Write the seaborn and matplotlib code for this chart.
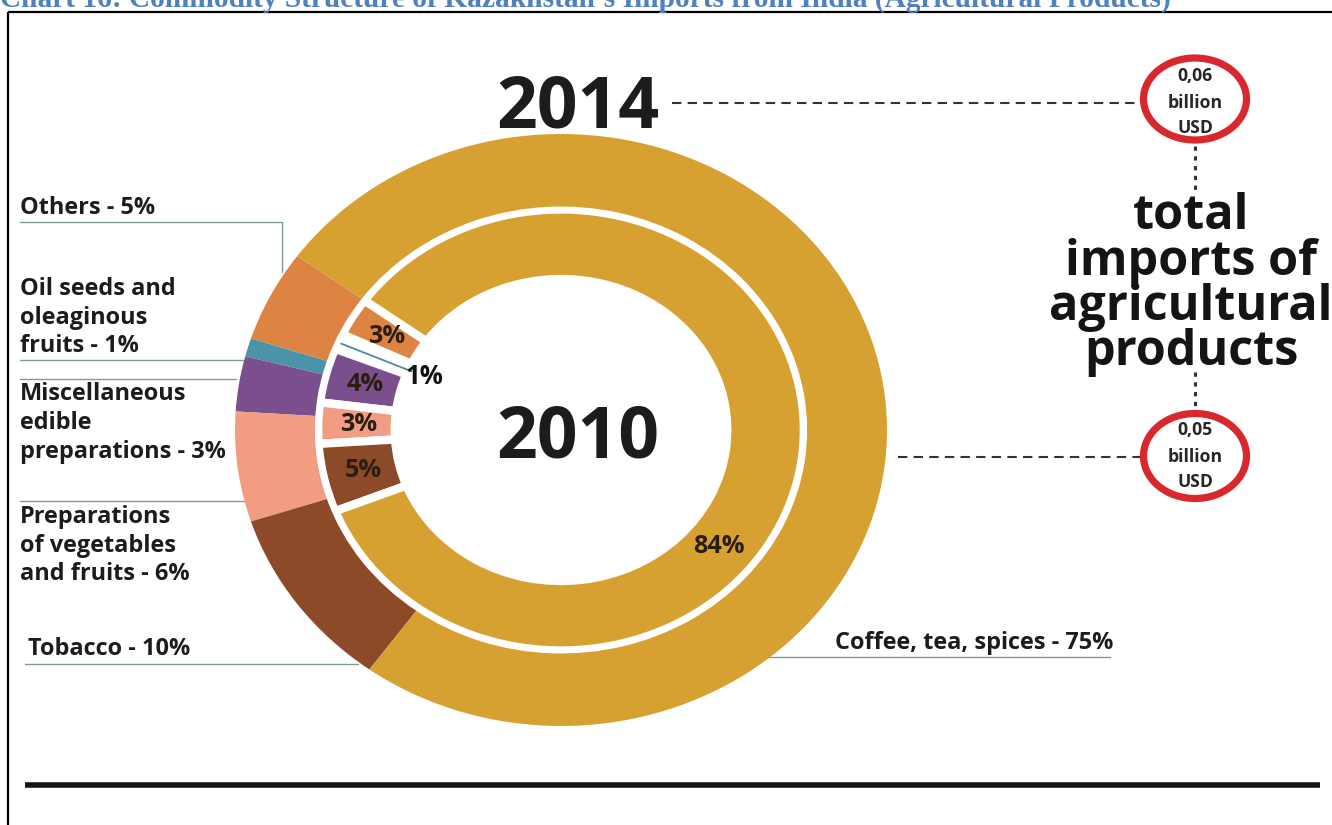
import numpy as np
import matplotlib
matplotlib.use("Agg")
import matplotlib.pyplot as plt
from matplotlib.patches import Ellipse
import seaborn as sns

# ---------------- data ----------------
categories = [
    "Others",
    "Oil seeds and oleaginous fruits",
    "Miscellaneous edible preparations",
    "Preparations of vegetables and fruits",
    "Tobacco",
    "Coffee, tea, spices",
]
share_2014 = [5, 1, 3, 6, 10, 75]
share_2010 = [3, 1, 4, 3, 5, 84]
years = ["2014", "2010"]
total_2014 = "0,06"
total_2010 = "0,05"
unit_lines = ["billion", "USD"]
label_lines = [
    ["Others"],
    ["Oil seeds and", "oleaginous", "fruits"],
    ["Miscellaneous", "edible", "preparations"],
    ["Preparations", "of vegetables", "and fruits"],
    ["Tobacco"],
    ["Coffee, tea, spices"],
]
side_title = ["total", "imports of", "agricultural", "products"]
title = "Chart 16: Commodity Structure of Kazakhstan\u2019s Imports from India (Agricultural Products)"

palette = ["#DD8443", "#4B93A6", "#7B4F8E", "#F29C84", "#8C4A29", "#D6A131"]

# ---------------- figure ----------------
W, H = 1332, 825
sns.set_theme(style="white")
plt.rcParams["font.family"] = ["Open Sans", "DejaVu Sans"]

fig = plt.figure(figsize=(W / 100, H / 100), dpi=100)
renderer = fig.canvas.get_renderer()

# full-figure canvas in pixel units (y downwards)
cv = fig.add_axes([0, 0, 1, 1])
cv.set_xlim(0, W)
cv.set_ylim(H, 0)
cv.axis("off")


def fit(s, width_px, weight="bold", family=None):
    t = fig.text(0, 0, s, fontsize=20, fontweight=weight,
                 family=family if family else plt.rcParams["font.family"])
    w = t.get_window_extent(renderer=renderer).width
    t.remove()
    return 20 * width_px / w


TXT = "#1c1c1c"
LEAD = "#7f9c88"

# title (partly outside the page at top)
fs_title = fit(title, 1168, family=["Liberation Serif"])
cv.text(0, 7, title, fontsize=fs_title, fontweight="bold", color="#4F81BD",
        family=["Liberation Serif"], ha="left", va="baseline")

# frame lines
cv.plot([8, W], [12, 12], color="black", lw=1.6, solid_capstyle="butt")
cv.plot([8, 8], [12, H], color="black", lw=1.6, solid_capstyle="butt")
cv.plot([25, 1320], [785, 785], color="#161616", lw=4.0, solid_capstyle="butt")

# ---------------- rings ----------------
cx, cy, rx, ry = 561, 430, 326, 296
ax = fig.add_axes([(cx - rx) / W, 1 - (cy + ry) / H, 2 * rx / W, 2 * ry / H])
start = 144

inner_wedges, _ = ax.pie(share_2010, radius=0.745, startangle=start, counterclock=True,
                         colors=palette,
                         wedgeprops=dict(width=0.235, edgecolor="white", linewidth=6))
# the 1% slice is too thin to show next to the gaps; it is marked by a leader line
inner_wedges[1].set_linewidth(9)
outer_wedges, _ = ax.pie(share_2014, radius=1.0, startangle=start, counterclock=True,
                         colors=palette,
                         wedgeprops=dict(width=0.245, edgecolor="none", linewidth=0))
for w in outer_wedges:
    w.set_zorder(3)
ax.set_aspect("auto")
ax.set_xlim(-1, 1)
ax.set_ylim(-1, 1)
ax.axis("off")

# inner-ring percentage labels on the slice mid angles
cum = np.cumsum([0] + share_2010)
mid = start + 3.6 * (cum[:-1] + np.array(share_2010) / 2)
fs_small = fit("4%", 37)
for i, v in enumerate(share_2010):
    a = np.deg2rad(mid[i])
    if i == 1:
        ax.plot([0.735 * np.cos(a), 0.50 * np.cos(a)], [0.735 * np.sin(a), 0.50 * np.sin(a)],
                color="#4F8AA0", lw=1.3, zorder=5)
        ax.text(0.455 * np.cos(a), 0.455 * np.sin(a), f"{v}%", fontsize=fs_small * 1.02,
                fontweight="bold", color="#111111", ha="center", va="center", zorder=6)
    elif i == 5:
        b = np.deg2rad(321)
        ax.text(0.625 * np.cos(b), 0.625 * np.sin(b), f"{v}%", fontsize=fs_small,
                fontweight="bold", color="#2a1d12", ha="center", va="center", zorder=6)
    else:
        ax.text(0.62 * np.cos(a), 0.62 * np.sin(a), f"{v}%", fontsize=fs_small,
                fontweight="bold", color="#2a1d12", ha="center", va="center", zorder=6)

# ---------------- year labels ----------------
fs_year = fit("2014", 163)
cv.text(578, 128, years[0], fontsize=fs_year, fontweight="bold", color=TXT,
        ha="center", va="baseline")
cv.text(578, 458, years[1], fontsize=fs_year, fontweight="bold", color=TXT,
        ha="center", va="baseline")
cv.plot([672, 1142], [103, 103], color="#333333", lw=1.5, dashes=(4.5, 3))
cv.plot([898, 1142], [457, 457], color="#333333", lw=1.5, dashes=(4.5, 3))

# ---------------- left labels with leader lines ----------------
fs_lab = fit("preparations - 3%", 206)


def label(lines, value, x, baselines):
    for k, (ln, yb) in enumerate(zip(lines, baselines)):
        s = f"{ln} - {value}%" if k == len(lines) - 1 else ln
        cv.text(x, yb, s, fontsize=fs_lab, fontweight="bold", color=TXT,
                ha="left", va="baseline")


label(label_lines[0], share_2014[0], 20, [214])
label(label_lines[1], share_2014[1], 20, [295, 324, 352])
label(label_lines[2], share_2014[2], 20, [400, 429, 458])
label(label_lines[3], share_2014[3], 20, [523, 552, 580])
label(label_lines[4], share_2014[4], 28, [655])
label(label_lines[5], share_2014[5], 835, [649])

lk = dict(color=LEAD, lw=1.0)
cv.plot([20, 282, 282], [222, 222, 272], **lk)
cv.plot([20, 243], [360, 360], **lk)
cv.plot([20, 236], [379, 379], **lk)
cv.plot([20, 245], [501, 501], **lk)
cv.plot([25, 358], [664, 664], **lk)
cv.plot([765, 1110], [657, 657], **lk)

# ---------------- totals ----------------
fs_side = fit("agricultural", 283)
for s, yb in zip(side_title, [229, 275, 320, 365]):
    cv.text(1191, yb, s, fontsize=fs_side, fontweight="bold", color="#141414",
            ha="center", va="baseline")

fs_circ = fit("billion", 55)
for (ycen, h, val, bases) in [(99, 82, total_2014, [81, 108, 133]),
                              (456, 85, total_2010, [435, 462, 487])]:
    cv.add_patch(Ellipse((1195, ycen), 103, h, facecolor="white",
                         edgecolor="#D8282E", lw=5.2, zorder=4))
    for s, yb in zip([val] + unit_lines, bases):
        cv.text(1195, yb, s, fontsize=fs_circ, fontweight="bold", color="#262626",
                ha="center", va="baseline", zorder=5)

cv.plot([1195, 1195], [146, 190], color="#333333", lw=2.2, dashes=(1.4, 1.8))
cv.plot([1195, 1195], [372, 410], color="#333333", lw=2.2, dashes=(1.4, 1.8))

fig.savefig("out.png", dpi=100, facecolor="white")
